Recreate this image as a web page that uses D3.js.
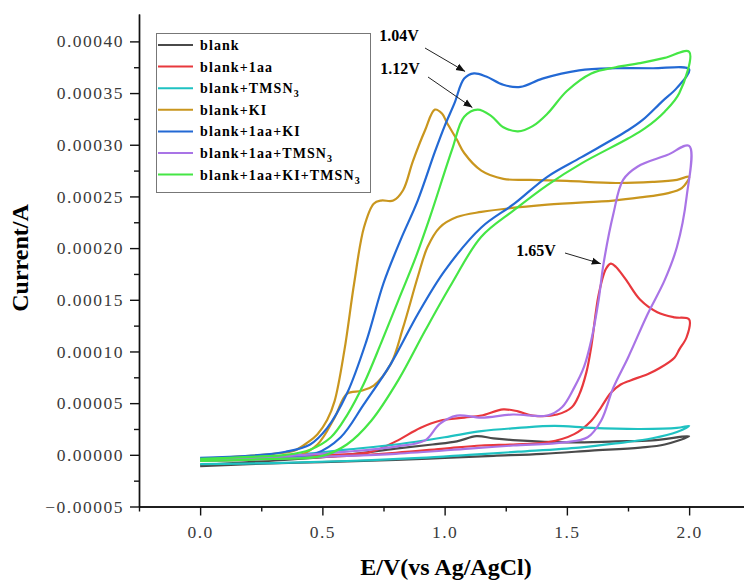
<!DOCTYPE html>
<html>
<head>
<meta charset="utf-8">
<script src="https://cdn.jsdelivr.net/npm/d3@7"></script>
<style>
  body { margin: 0; background: #fff; }
  svg { display: block; }
</style>
</head>
<body>
<svg id="chart" width="744" height="581"></svg>
<script>
// CV curves, potential E (V) vs current in units of 1e-5 A
// each series: forward scan 0 -> 2.0 V, then reverse 2.0 -> 0 V
const UNIT = 1e-5;

const blank = [
  [0, -1.0], [0.2, -0.7], [0.4, -0.4], [0.6, 0.0], [0.8, 0.6], [0.95, 1.0], [1.05, 1.3], [1.13, 1.8],
  [1.2, 1.6], [1.3, 1.4], [1.5, 1.2], [1.7, 1.3], [1.85, 1.4], [2.0, 1.8],
  [1.9, 1.0], [1.8, 0.7], [1.6, 0.4], [1.4, 0.1], [1.2, -0.1], [1.0, -0.3], [0.8, -0.5], [0.5, -0.7],
  [0.2, -0.9], [0, -1.1]
];

const blank1aa = [
  [0, -0.5], [0.3, -0.2], [0.55, 0.0], [0.7, 0.3], [0.8, 1.3], [0.9, 2.6], [0.98, 3.3], [1.08, 3.6],
  [1.15, 3.8], [1.24, 4.4], [1.3, 4.2], [1.36, 3.8], [1.46, 3.9], [1.52, 4.6], [1.55, 5.8], [1.58, 8.0],
  [1.6, 10.5], [1.63, 15.5], [1.66, 18.0], [1.68, 18.5], [1.7, 18.2], [1.74, 17.0], [1.8, 15.0],
  [1.87, 13.8], [1.94, 13.3], [2.0, 13.1],
  [1.99, 11.4], [1.96, 10.2], [1.94, 9.4], [1.88, 8.4], [1.83, 7.8], [1.76, 7.2], [1.72, 6.8],
  [1.68, 6.0], [1.64, 4.6], [1.6, 3.3], [1.53, 2.0], [1.42, 1.2], [1.28, 1.0], [1.15, 0.9], [1.0, 0.6],
  [0.8, 0.2], [0.6, -0.1], [0.3, -0.4], [0, -0.6]
];

const blankTMSN3 = [
  [0, -0.6], [0.2, -0.3], [0.4, 0.0], [0.6, 0.5], [0.8, 1.0], [1.0, 1.7], [1.15, 2.3], [1.3, 2.6],
  [1.45, 2.8], [1.6, 2.6], [1.8, 2.5], [1.95, 2.6], [2.0, 2.8],
  [1.95, 2.2], [1.85, 1.6], [1.7, 1.1], [1.55, 0.7], [1.3, 0.3], [1.1, 0.0], [0.9, -0.3], [0.6, -0.6],
  [0.3, -0.8], [0, -0.9]
];

const blankKI = [
  [0, -0.4], [0.2, -0.1], [0.3, 0.1], [0.385, 0.4], [0.44, 1.2], [0.48, 2.0], [0.52, 3.4], [0.55, 5.2],
  [0.59, 10.1], [0.63, 16.6], [0.67, 22.0], [0.71, 24.3], [0.74, 24.6], [0.79, 24.6], [0.83, 25.6],
  [0.87, 28.4], [0.92, 31.4], [0.96, 33.4], [0.99, 33.0], [1.01, 32.1], [1.05, 30.5], [1.08, 29.2],
  [1.15, 27.5], [1.24, 26.7], [1.35, 26.6], [1.5, 26.5], [1.7, 26.3], [1.85, 26.4], [1.95, 26.6],
  [2.0, 26.9],
  [1.97, 25.8], [1.91, 25.3], [1.8, 24.9], [1.69, 24.6], [1.42, 24.2], [1.15, 23.5], [1.05, 23.0],
  [0.98, 22.0], [0.93, 20.1], [0.89, 17.2], [0.83, 12.3], [0.78, 8.8], [0.71, 6.7], [0.66, 6.2],
  [0.6, 5.9], [0.55, 3.6], [0.48, 1.0], [0.4, -0.1], [0.2, -0.4], [0, -0.6]
];

const blank1aaKI = [
  [0, -0.3], [0.2, -0.1], [0.35, 0.3], [0.45, 1.0], [0.52, 2.6], [0.6, 5.9], [0.68, 11.0], [0.75, 16.6],
  [0.82, 20.8], [0.89, 24.6], [0.96, 29.3], [1.0, 31.8], [1.04, 34.0], [1.08, 36.4], [1.12, 36.9],
  [1.17, 36.6], [1.24, 35.8], [1.31, 35.6], [1.4, 36.4], [1.55, 37.2], [1.7, 37.4], [1.85, 37.4],
  [2.0, 37.3],
  [1.95, 35.5], [1.89, 34.2], [1.81, 32.4], [1.75, 31.4], [1.56, 28.8], [1.42, 26.9], [1.285, 24.3],
  [1.15, 22.0], [1.0, 17.8], [0.89, 13.6], [0.78, 8.8], [0.67, 4.9], [0.575, 1.7], [0.47, 0.1],
  [0.3, -0.3], [0, -0.5]
];

const blank1aaTMSN3 = [
  [0, -0.5], [0.3, -0.2], [0.6, 0.3], [0.8, 0.8], [0.92, 1.4], [0.98, 3.0], [1.05, 3.8], [1.15, 3.6],
  [1.28, 3.9], [1.42, 3.8], [1.48, 4.6], [1.53, 6.5], [1.57, 8.5], [1.6, 11.1], [1.63, 15.0],
  [1.65, 18.5], [1.69, 23.3], [1.73, 26.6], [1.79, 27.9], [1.91, 29.0], [2.0, 29.9],
  [1.99, 25.0], [1.95, 20.1], [1.9, 16.9], [1.83, 13.6], [1.75, 9.4], [1.69, 6.5], [1.64, 3.3],
  [1.585, 1.7], [1.49, 1.2], [1.28, 0.9], [1.1, 0.6], [0.8, 0.1], [0.5, -0.2], [0.2, -0.5], [0, -0.6]
];

const blank1aaKITMSN3 = [
  [0, -0.4], [0.2, -0.2], [0.35, 0.0], [0.45, 0.5], [0.535, 1.7], [0.6, 3.8], [0.67, 6.9], [0.74, 10.8],
  [0.81, 14.9], [0.88, 19.0], [0.94, 23.0], [1.03, 29.5], [1.08, 32.7], [1.135, 33.4], [1.19, 32.8],
  [1.24, 31.7], [1.3, 31.3], [1.36, 31.8], [1.42, 33.0], [1.5, 35.2], [1.6, 36.9], [1.7, 37.5],
  [1.8, 37.9], [1.9, 38.4], [2.0, 39.0],
  [1.96, 35.0], [1.9, 33.2], [1.82, 31.6], [1.75, 30.6], [1.56, 28.2], [1.42, 26.1], [1.285, 23.7],
  [1.15, 21.1], [1.03, 16.6], [0.92, 12.0], [0.81, 7.2], [0.7, 3.3], [0.6, 1.0], [0.5, -0.1],
  [0.3, -0.4], [0, -0.6]
];

const seriesNames = ["blank", "blank+1aa", "blank+TMSN3", "blank+KI", "blank+1aa+KI",
  "blank+1aa+TMSN3", "blank+1aa+KI+TMSN3"];
const seriesData = [blank, blank1aa, blankTMSN3, blankKI, blank1aaKI, blank1aaTMSN3, blank1aaKITMSN3];
const seriesColors = ["#4a4a4a", "#e8383d", "#1fc2c2", "#c9961e", "#2369d4", "#a974e6", "#45e645"];

const xTicks = [0, 0.5, 1.0, 1.5, 2.0];
const yTicks = [-0.00005, 0, 0.00005, 0.0001, 0.00015, 0.0002, 0.00025, 0.0003, 0.00035, 0.0004];

// peak annotations: label, peak potential and current (1e-5 A) the arrow points at
const annoLabels = ["1.04V", "1.12V", "1.65V"];
const annoTargets = [[1.10, 36.9], [1.13, 33.4], [1.655, 18.3]];

// layout
const svg = d3.select("#chart");
const plotLeft = 139, plotBottom = 506.5, plotTop = 14;

const x = d3.scaleLinear().domain([-0.25, 2.25]).range([plotLeft, plotLeft + 2.5 * 244.5]);
const y = d3.scaleLinear().domain([-0.00005, 0.0004265]).range([plotBottom, plotTop]);

// axes
const tickFont = "'Liberation Serif', 'DejaVu Serif', serif";
const fmt = d3.format(".5f");

svg.append("g")
  .attr("transform", `translate(${plotLeft},0)`)
  .call(d3.axisLeft(y).tickValues(yTicks).tickFormat(d => fmt(d).replace("-", "\u2212"))
    .tickSize(9).tickPadding(6).tickSizeOuter(0));

svg.append("g")
  .attr("transform", `translate(${plotLeft},0)`)
  .call(d3.axisLeft(y).tickValues(d3.range(-0.000025, 0.00042, 0.00005)).tickFormat("").tickSize(5).tickSizeOuter(0));

svg.append("g")
  .attr("transform", `translate(0,${plotBottom})`)
  .call(d3.axisBottom(x).tickValues(xTicks).tickFormat(d3.format(".1f"))
    .tickSize(9).tickPadding(10).tickSizeOuter(0));

svg.append("g")
  .attr("transform", `translate(0,${plotBottom})`)
  .call(d3.axisBottom(x).tickValues([-0.25, 0.25, 0.75, 1.25, 1.75]).tickFormat("").tickSize(5).tickSizeOuter(0));

svg.selectAll(".domain, .tick line").attr("stroke", "#111").attr("stroke-width", 1.4);
svg.selectAll(".tick text")
  .attr("fill", "#3a3a3a")
  .style("font-family", tickFont)
  .style("font-size", "17.5px")
  .style("letter-spacing", "1.5px");

// axis titles
svg.append("text")
  .attr("transform", `translate(28,258) rotate(-90)`)
  .attr("text-anchor", "middle")
  .style("font-family", "'Liberation Serif', serif")
  .style("font-weight", "bold")
  .style("font-size", "24px")
  .text("Current/A");

svg.append("text")
  .attr("x", 446)
  .attr("y", 575)
  .attr("text-anchor", "middle")
  .style("font-family", "'Liberation Serif', serif")
  .style("font-weight", "bold")
  .style("font-size", "24px")
  .text("E/V(vs Ag/AgCl)");

// curves
const line = d3.line()
  .x(d => x(d[0]))
  .y(d => y(d[1] * UNIT))
  .curve(d3.curveCatmullRom.alpha(0.5));

svg.append("g").selectAll("path")
  .data(seriesData)
  .join("path")
  .attr("d", d => line(d))
  .attr("fill", "none")
  .attr("stroke", (d, i) => seriesColors[i])
  .attr("stroke-width", 2.2)
  .attr("stroke-linejoin", "round");

// legend
const legend = svg.append("g");
legend.append("rect")
  .attr("x", 156.5).attr("y", 33.5)
  .attr("width", 214).attr("height", 159)
  .attr("fill", "#fff")
  .attr("stroke", "#777")
  .attr("stroke-width", 1);

seriesNames.forEach((name, i) => {
  const ly = 45 + i * 21.6;
  legend.append("line")
    .attr("x1", 158).attr("x2", 193)
    .attr("y1", ly).attr("y2", ly)
    .attr("stroke", seriesColors[i])
    .attr("stroke-width", 2);
  const t = legend.append("text")
    .attr("x", 200).attr("y", ly + 5)
    .style("font-family", "'Liberation Serif', serif")
    .style("font-weight", "bold")
    .style("font-size", "14px")
    .style("letter-spacing", "1.1px");
  if (name.endsWith("3")) {
    t.append("tspan").text(name.slice(0, -1));
    t.append("tspan").attr("dy", 4).style("font-size", "10px").text("3");
  } else {
    t.text(name);
  }
});

// annotations with arrows
svg.append("defs").append("marker")
  .attr("id", "arrow")
  .attr("viewBox", "0 0 10 10")
  .attr("refX", 10).attr("refY", 5)
  .attr("markerWidth", 9).attr("markerHeight", 9)
  .attr("markerUnits", "userSpaceOnUse")
  .attr("orient", "auto")
  .append("path")
  .attr("d", "M0,1 L10,5 L0,9 Z")
  .attr("fill", "#111");

const annoText = [[399, 41], [400, 74], [536, 256]];
const annoStart = [[425, 48], [428, 77], [565, 253]];

annoLabels.forEach((lab, i) => {
  svg.append("text")
    .attr("x", annoText[i][0]).attr("y", annoText[i][1])
    .attr("text-anchor", "middle")
    .style("font-family", "'Liberation Serif', serif")
    .style("font-weight", "bold")
    .style("font-size", "16px")
    .text(lab);
  const tx = x(annoTargets[i][0]), ty = y(annoTargets[i][1] * UNIT);
  svg.append("line")
    .attr("x1", annoStart[i][0]).attr("y1", annoStart[i][1])
    .attr("x2", tx - 4).attr("y2", ty - 2)
    .attr("stroke", "#222")
    .attr("stroke-width", 1)
    .attr("marker-end", "url(#arrow)");
});
</script>
</body>
</html>
